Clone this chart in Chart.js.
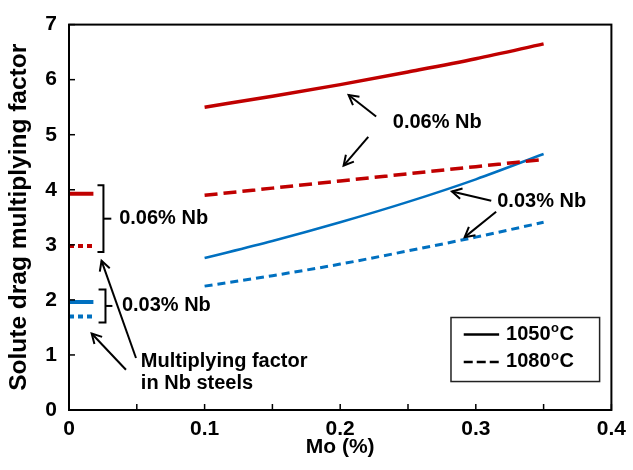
<!DOCTYPE html>
<html>
<head>
<meta charset="utf-8">
<script src="https://cdn.jsdelivr.net/npm/chart.js@4.4.1/dist/chart.umd.min.js"></script>
<style>
  html, body { margin: 0; padding: 0; background: #fff; }
  #wrap { width: 633px; height: 470px; }
</style>
</head>
<body>
<div id="wrap"><canvas id="grafico" width="633" height="470"></canvas></div>
<script>
// Mo content (%) and solute drag multiplying factor for each steel / temperature
const moPct      = [0.10, 0.15, 0.20, 0.25, 0.30, 0.35];
const nb06At1050 = [5.50, 5.70, 5.91, 6.14, 6.38, 6.65];
const nb06At1080 = [3.90, 4.03, 4.16, 4.29, 4.42, 4.55];
const nb03At1050 = [2.76, 3.07, 3.41, 3.78, 4.19, 4.65];
const nb03At1080 = [2.25, 2.44, 2.65, 2.89, 3.14, 3.41];

// multiplying factor in plain Nb steels (short markers at Mo = 0)
const nbSteelX     = [0, 0.018];
const nbSteel06    = [3.93, 2.98];   // 1050, 1080
const nbSteel03    = [1.96, 1.70];   // 1050, 1080

const xTicks = [0, 0.1, 0.2, 0.3, 0.4];
const yTicks = [0, 1, 2, 3, 4, 5, 6, 7];

const RED = "#C00000";
const BLUE = "#0070C0";
const FONT = '"Liberation Sans", Arial, sans-serif';

function pontos(xs, ys) {
    return xs.map((x, i) => ({ x: x, y: ys[i] }));
}
function linha(xs, ys, cor, largura, tracejado) {
    return {
        data: pontos(xs, ys),
        borderColor: cor,
        borderWidth: largura,
        borderDash: tracejado || [],
        borderCapStyle: "butt",
        pointRadius: 0,
        fill: false,
        cubicInterpolationMode: "monotone"
    };
}

// frame, inward ticks, brackets, arrows, notes and legend
const anotacoes = {
    id: "anotacoes",
    afterDraw(chart) {
        const ctx = chart.ctx;
        const a = chart.chartArea;
        const sx = chart.scales.x, sy = chart.scales.y;
        const px = v => sx.getPixelForValue(v);
        const py = v => sy.getPixelForValue(v);

        ctx.save();
        ctx.strokeStyle = "#000";
        ctx.fillStyle = "#000";
        ctx.lineCap = "butt";

        function seg(x1, y1, x2, y2) {
            ctx.beginPath(); ctx.moveTo(x1, y1); ctx.lineTo(x2, y2); ctx.stroke();
        }
        function seta(x1, y1, x2, y2) {
            // line from (x1,y1) with an open head at (x2,y2)
            const X1 = px(x1), Y1 = py(y1), X2 = px(x2), Y2 = py(y2);
            const ang = Math.atan2(Y2 - Y1, X2 - X1);
            const L = 11, w = 0.5;
            ctx.lineWidth = 2;
            seg(X1, Y1, X2, Y2);
            ctx.beginPath();
            ctx.moveTo(X2 - L * Math.cos(ang - w), Y2 - L * Math.sin(ang - w));
            ctx.lineTo(X2, Y2);
            ctx.lineTo(X2 - L * Math.cos(ang + w), Y2 - L * Math.sin(ang + w));
            ctx.stroke();
        }
        function chave(x, xHook, xMid, yTop, yBot) {
            const X = px(x), T = py(yTop), B = py(yBot);
            ctx.lineWidth = 2;
            ctx.beginPath();
            ctx.moveTo(px(xHook), T); ctx.lineTo(X, T); ctx.lineTo(X, B); ctx.lineTo(px(xHook), B);
            ctx.stroke();
            const M = (T + B) / 2;
            seg(X, M, px(xMid), M);
        }
        function texto(s, x, y, tam) {
            ctx.font = "bold " + (tam || 20) + "px " + FONT;
            ctx.textAlign = "left";
            ctx.textBaseline = "middle";
            ctx.fillText(s, px(x), py(y));
        }

        // plot frame
        ctx.lineWidth = 2;
        ctx.strokeRect(a.left, a.top, a.right - a.left, a.bottom - a.top);

        // inward tick marks
        ctx.lineWidth = 1.5;
        sx.ticks.forEach(t => { const X = px(t.value); seg(X, a.bottom, X, a.bottom - 6); });
        sy.ticks.forEach(t => { const Y = py(t.value); seg(a.left, Y, a.left + 6, Y); });

        // brackets for the Nb steel markers
        chave(0.0254, 0.021, 0.0312, 4.08, 2.87);
        texto("0.06% Nb", 0.037, 3.48);
        chave(0.0269, 0.0218, 0.032, 2.19, 1.59);
        texto("0.03% Nb", 0.039, 1.89);

        texto("Multiplying factor", 0.053, 0.89);
        texto("in Nb steels", 0.053, 0.48);
        seta(0.0494, 0.945, 0.024, 2.71);
        seta(0.042, 0.73, 0.0167, 1.39);

        // labels pointing at the Mo curves
        texto("0.06% Nb", 0.2388, 5.22);
        seta(0.2265, 5.33, 0.2062, 5.72);
        seta(0.2207, 4.96, 0.2025, 4.44);

        texto("0.03% Nb", 0.3158, 3.78);
        seta(0.3114, 3.80, 0.2824, 3.97);
        seta(0.315, 3.60, 0.2918, 3.14);

        // legend
        const L0 = px(0.2817), L1 = px(0.3913), T0 = py(1.68), B0 = py(0.517);
        ctx.lineWidth = 1.5;
        ctx.strokeStyle = "#222";
        ctx.strokeRect(L0, T0, L1 - L0, B0 - T0);
        ctx.strokeStyle = "#000";
        const rows = [{ y: 1.372, txt: "1050", dash: [] }, { y: 0.873, txt: "1080", dash: [9, 4] }];
        rows.forEach(r => {
            const Y = py(r.y);
            ctx.lineWidth = 2.5;
            ctx.setLineDash(r.dash);
            seg(px(0.2911), Y, px(0.3172), Y);
            ctx.setLineDash([]);
            ctx.font = "bold 20px " + FONT;
            ctx.textBaseline = "middle";
            ctx.textAlign = "left";
            let X = px(0.3223);
            ctx.fillText(r.txt, X, Y);
            X += ctx.measureText(r.txt).width;
            ctx.font = "bold 13px " + FONT;
            ctx.fillText("o", X + 0.5, Y - 6);
            X += ctx.measureText("o").width + 1;
            ctx.font = "bold 20px " + FONT;
            ctx.fillText("C", X, Y);
        });

        ctx.restore();
    }
};

const ctx = document.getElementById("grafico").getContext("2d");
new Chart(ctx, {
    type: "line",
    data: {
        datasets: [
            linha(moPct, nb06At1050, RED, 3.5),
            linha(moPct, nb06At1080, RED, 3.5, [13, 6]),
            linha(moPct, nb03At1050, BLUE, 2.5),
            linha(moPct, nb03At1080, BLUE, 3, [8, 5]),
            linha(nbSteelX, [nbSteel06[0], nbSteel06[0]], RED, 4),
            linha(nbSteelX, [nbSteel06[1], nbSteel06[1]], RED, 4, [5, 4]),
            linha(nbSteelX, [nbSteel03[0], nbSteel03[0]], BLUE, 4),
            linha(nbSteelX, [nbSteel03[1], nbSteel03[1]], BLUE, 4, [5, 4])
        ]
    },
    options: {
        responsive: false,
        animation: false,
        layout: { padding: { left: 0, right: 13, top: 17, bottom: 0 } },
        plugins: {
            legend: { display: false },
            tooltip: { enabled: false }
        },
        scales: {
            x: {
                type: "linear",
                min: 0,
                max: 0.4,
                afterBuildTicks: s => {
                    const t = [];
                    for (let i = 0; i <= 8; i++) t.push({ value: i * 0.05 });
                    s.ticks = t;
                },
                afterFit: s => { s.height = 60; },
                grid: { display: false, drawTicks: false },
                border: { display: false },
                ticks: {
                    padding: 7,
                    color: "#000",
                    font: { family: FONT, size: 21, weight: "bold" },
                    callback: v => {
                        const k = xTicks.find(t => Math.abs(t - v) < 1e-6);
                        return k === undefined ? "" : String(k);
                    }
                },
                title: {
                    display: true,
                    text: "Mo (%)",
                    color: "#000",
                    font: { family: FONT, size: 21, weight: "bold" },
                    padding: { top: 0, bottom: 10 }
                }
            },
            y: {
                min: 0,
                max: 7,
                afterBuildTicks: s => { s.ticks = yTicks.map(v => ({ value: v })); },
                afterFit: s => { s.width = 69; },
                grid: { display: false, drawTicks: false },
                border: { display: false },
                ticks: {
                    padding: 12,
                    color: "#000",
                    font: { family: FONT, size: 21, weight: "bold" }
                },
                title: {
                    display: true,
                    text: "Solute drag multiplying factor",
                    color: "#000",
                    font: { family: FONT, size: 24.5, weight: "bold" },
                    padding: { top: 5, bottom: 0 }
                }
            }
        }
    },
    plugins: [anotacoes]
});
</script>
</body>
</html>
